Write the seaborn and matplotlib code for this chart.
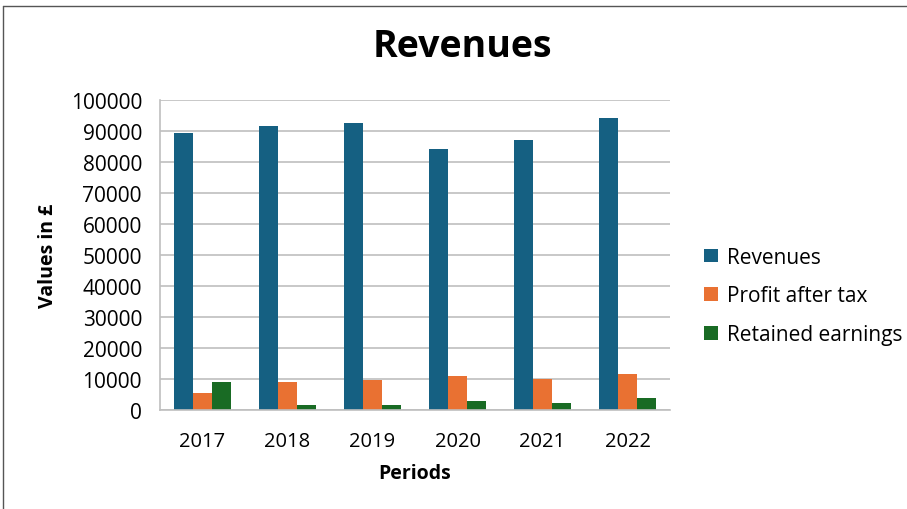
import matplotlib
matplotlib.use("Agg")
import matplotlib.pyplot as plt
import seaborn as sns
import pandas as pd

periods = ["2017", "2018", "2019", "2020", "2021", "2022"]
revenues = [89500, 91500, 92600, 84300, 87000, 94300]
profit_after_tax = [5600, 8900, 9800, 11000, 9900, 11700]
retained_earnings = [9000, 1700, 1700, 2800, 2150, 3800]
series_names = ["Revenues", "Profit after tax", "Retained earnings"]
y_ticks = [0, 10000, 20000, 30000, 40000, 50000, 60000, 70000, 80000, 90000, 100000]

rows = []
for name, vals in zip(series_names, [revenues, profit_after_tax, retained_earnings]):
    for p, v in zip(periods, vals):
        rows.append({"Period": p, "Series": name, "Value": v})
df = pd.DataFrame(rows)

sns.set_theme(style="white")
plt.rcParams["font.family"] = ["Open Sans", "DejaVu Sans"]
plt.rcParams["text.color"] = "black"
plt.rcParams["axes.labelcolor"] = "black"

fig = plt.figure(figsize=(9.07, 5.10), dpi=100)
ax = fig.add_axes([160 / 907, (510 - 411) / 510, 510 / 907, 310 / 510])

colors = ["#156082", "#E97132", "#196B24"]
sns.barplot(data=df, x="Period", y="Value", hue="Series", order=periods,
            hue_order=series_names, palette=colors, saturation=1,
            width=0.67, gap=0, ax=ax, errorbar=None, legend=True, linewidth=0)

ax.set_ylim(0, 100000)
ax.set_yticks(y_ticks)
ax.set_yticklabels([str(t) for t in y_ticks])
ax.yaxis.grid(True, color="#BFBFBF", linewidth=1.2)
ax.set_axisbelow(True)
for s in ["top", "right"]:
    ax.spines[s].set_visible(False)
for s in ["left", "bottom"]:
    ax.spines[s].set_color("#BFBFBF")
    ax.spines[s].set_linewidth(1.2)
ax.tick_params(axis="y", length=0, labelsize=15, colors="black", pad=13)
ax.tick_params(axis="x", length=0, labelsize=14.5, colors="black", pad=15)
ax.set_xlabel("Periods", fontsize=14, fontweight="bold", labelpad=9)
ax.set_ylabel("Values in £", fontsize=14, fontweight="bold", labelpad=9)
fig.text(462 / 907, 1 - 47 / 510, "Revenues", fontsize=27, fontweight="bold",
         ha="center", va="center", color="black")

handles, labels = ax.get_legend_handles_labels()
ax.legend(handles, labels, loc="center left",
          bbox_to_anchor=(704 / 907, 1 - 297 / 510), bbox_transform=fig.transFigure,
          frameon=False, fontsize=15, handlelength=0.65, handleheight=0.65,
          handletextpad=0.45, labelspacing=0.85, borderaxespad=0, borderpad=0)

# thin outer frame (screenshot border at top and left)
fig.add_artist(plt.Line2D([3 / 907, 1], [1 - 7 / 510, 1 - 7 / 510],
                          transform=fig.transFigure, color="#555555", linewidth=1))
fig.add_artist(plt.Line2D([3 / 907, 3 / 907], [0, 1 - 7 / 510],
                          transform=fig.transFigure, color="#555555", linewidth=1))

fig.savefig("out.png", dpi=100)
